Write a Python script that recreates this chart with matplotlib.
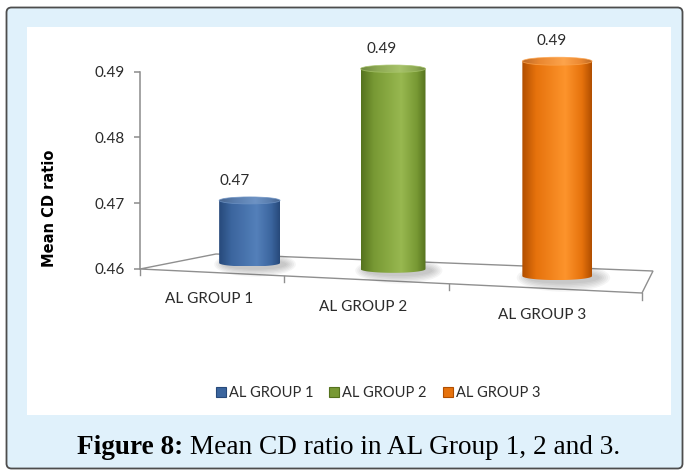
import numpy as np
import matplotlib
matplotlib.use("Agg")
import matplotlib.pyplot as plt
from matplotlib.colors import LinearSegmentedColormap, to_rgb
from matplotlib.patches import Polygon, Ellipse, Rectangle, FancyBboxPatch, Patch

# data
groups = ["AL GROUP 1", "AL GROUP 2", "AL GROUP 3"]
mean_cd = [0.47, 0.49, 0.49]
y_ticks = [0.46, 0.47, 0.48, 0.49]

# edge / body / highlight colour of each cylinder
shades = [
    ("#27497a", "#3b659e", "#5480ba"),
    ("#55721e", "#789934", "#98b850"),
    ("#b04e00", "#e6720c", "#fd942c"),
]

W, H = 689, 475
fig = plt.figure(figsize=(W / 100, H / 100), dpi=100)

# canvas in pixels (y down) for frame, floor, cylinders and texts
pax = fig.add_axes([0, 0, 1, 1], zorder=0)
pax.axis("off")

pax.add_patch(FancyBboxPatch((6.5, 7.5), 676, 461,
                             boxstyle="round,pad=0,rounding_size=5",
                             fc="#e0f1fb", ec="#4d4d4d", lw=1.3))
pax.add_patch(Rectangle((27, 27), 644, 388, fc="white", ec="none"))

# value axis
ax = fig.add_axes([140 / W, 1 - 269 / H, 502 / W, (269 - 71.7) / H], zorder=1)
ax.patch.set_alpha(0)
ax.set_ylim(y_ticks[0], y_ticks[-1])
ax.set_yticks(y_ticks)
ax.set_yticklabels([f"{v:.2f}" for v in y_ticks], family="Lato")
ax.set_xticks([])
for s in ["top", "right", "bottom"]:
    ax.spines[s].set_visible(False)
ax.spines["left"].set_color("#8c8c8c")
ax.spines["left"].set_linewidth(1.1)
ax.tick_params(axis="y", length=4.3, width=1.1, color="#8c8c8c", pad=7,
               labelsize=11, labelcolor="#2b2b2b")


def px(pt):
    x, y = pt
    return x, H - y


y0_disp = ax.transData.transform((0, y_ticks[0]))
y1_disp = ax.transData.transform((0, y_ticks[-1]))
px_per_unit = (y1_disp[1] - y0_disp[1]) / (y_ticks[-1] - y_ticks[0])
front_left = px(y0_disp)

# floor corners: front-left, front-right, back-right, back-left
corners = [front_left, (642, 293), (653, 271), (216, 254)]


def floor_map(p0, p1, p2, p3):
    (x0, y0), (x1, y1), (x2, y2), (x3, y3) = p0, p1, p2, p3
    sx = x0 - x1 + x2 - x3
    sy = y0 - y1 + y2 - y3
    dx1, dx2 = x1 - x2, x3 - x2
    dy1, dy2 = y1 - y2, y3 - y2
    det = dx1 * dy2 - dx2 * dy1
    g = (sx * dy2 - dx2 * sy) / det
    h = (dx1 * sy - sx * dy1) / det
    a, b = x1 - x0 + g * x1, x3 - x0 + h * x3
    d, e = y1 - y0 + g * y1, y3 - y0 + h * y3

    def proj(u, v):
        w = g * u + h * v + 1
        return (a * u + b * v + x0) / w, (d * u + e * v + y0) / w, 1 / w
    return proj


proj = floor_map(*corners)

pax.add_patch(Polygon(corners, closed=True, fc="white", ec="#8f8f8f", lw=1.0, zorder=2))
n = len(groups)
for i in range(n + 1):
    x, y, _ = proj(i / n, 0)
    pax.plot([x, x], [y, y + 6.5], color="#8f8f8f", lw=1.0, zorder=2)

label_font = dict(family="Lato", fontsize=11, color="#2b2b2b")


def cylinder(cx, base, top, rw, rh, colors, z):
    edge, body, hi = colors
    cmap = LinearSegmentedColormap.from_list(
        "cyl", [(0, edge), (0.2, body), (0.62, hi), (0.86, body), (1, edge)])
    cap_cols = [tuple(0.85 * np.array(to_rgb(c)) + 0.15) for c in (edge, body, hi)]
    cap_cmap = LinearSegmentedColormap.from_list(
        "cap", [(0, cap_cols[0]), (0.25, cap_cols[1]), (0.6, cap_cols[2]),
                (0.85, cap_cols[1]), (1, cap_cols[0])])
    grad = np.linspace(0, 1, 256)[None, :]

    # soft shadow on the floor
    for k in range(6):
        pax.add_patch(Ellipse((cx + 0.18 * rw, base + 0.4 * rh),
                              2 * rw * (1.04 + 0.06 * k), 2 * rh * (1.5 + 0.4 * k),
                              fc="#3c3c3c", ec="none", alpha=0.05, zorder=z))

    t = np.linspace(0, np.pi, 60)
    arc = np.column_stack([cx - rw * np.cos(t), base + rh * np.sin(t)])
    outline = np.vstack([[cx - rw, top], arc, [cx + rw, top]])
    body_clip = Polygon(outline, closed=True, transform=pax.transData)
    im = pax.imshow(grad, cmap=cmap, aspect="auto", interpolation="bilinear",
                    extent=(cx - rw, cx + rw, base + rh, top - rh), zorder=z + 1)
    im.set_clip_path(body_clip)

    cap = Ellipse((cx, top), 2 * rw, 2 * rh, transform=pax.transData)
    im2 = pax.imshow(grad, cmap=cap_cmap, aspect="auto", interpolation="bilinear",
                     extent=(cx - rw, cx + rw, top + rh, top - rh), zorder=z + 2)
    im2.set_clip_path(cap)
    pax.add_patch(Ellipse((cx, top), 2 * rw, 2 * rh, fc="none",
                          ec=cap_cols[2], lw=0.6, alpha=0.8, zorder=z + 3))


bar_depth = 0.55
bar_radius = 32
for i, (val, col) in enumerate(zip(mean_cd, shades)):
    u = (i + 0.5) / n
    cx, base, s = proj(u, bar_depth)
    rw = bar_radius * s
    rh = 0.115 * rw
    top = base - (val - y_ticks[0]) * px_per_unit * s
    cylinder(cx, base, top, rw, rh, col, 3 + 5 * i)

    lx = proj(u, bar_depth - 0.22)[0]
    pax.text(lx, top - rh - 16, f"{val:.2f}", ha="center", va="center", **label_font)

    gx, gy, _ = proj(u, 0)
    pax.text(gx, gy + 27, groups[i], ha="center", va="center", **label_font)

pax.text(50, 208.5, "Mean CD ratio", rotation=90, ha="center", va="center",
         family="DejaVu Sans", fontweight="bold", fontsize=10.5, color="black")

pax.set_xlim(0, W)
pax.set_ylim(H, 0)

handles = [Patch(fc=c[1], ec=c[0], lw=0.8) for c in shades]
fig.legend(handles, groups, loc="center", bbox_to_anchor=(378 / W, 1 - 393 / H),
           ncol=3, frameon=False, handlelength=0.7, handleheight=0.7,
           handletextpad=0.2, columnspacing=1.1,
           prop={"family": "Lato", "size": 10.5}, labelcolor="#2b2b2b")

# caption: bold lead-in followed by regular text, centred as one line
cap_y = 1 - 454 / H
t1 = fig.text(0, cap_y, "Figure 8:", family="Liberation Serif", fontweight="bold",
              fontsize=19.6, va="baseline", color="black")
t2 = fig.text(0, cap_y, " Mean CD ratio in AL Group 1, 2 and 3.", family="Liberation Serif",
              fontsize=19.6, va="baseline", color="black")
fig.canvas.draw()
r = fig.canvas.get_renderer()
w1 = t1.get_window_extent(r).width
w2 = t2.get_window_extent(r).width
start = 348.5 - (w1 + w2) / 2
t1.set_x(start / W)
t2.set_x((start + w1) / W)

fig.savefig("out.png", dpi=100)
